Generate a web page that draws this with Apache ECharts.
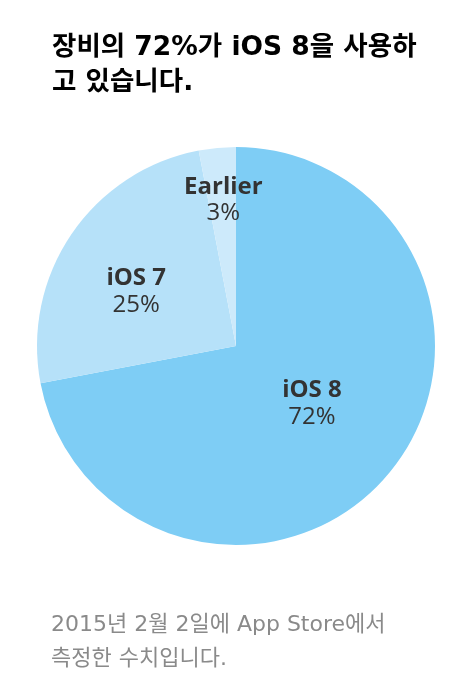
<!DOCTYPE html>
<html><head><meta charset="utf-8">
<script src="https://cdn.jsdelivr.net/npm/echarts@6/dist/echarts.min.js"></script>
<style>html,body{margin:0;padding:0;background:#fff}#c{width:472px;height:696px}</style>
</head><body><div id="c"></div>
<script>
const categories = ['iOS 8', 'iOS 7', 'Earlier'];
const values = [72, 25, 3];
const colors = ['#7ecdf5', '#b6e1f9', '#cdeafb'];
const labelOffsets = [[-3, -8], [-15, 3], [-3, -44]];
const titleText = '장비의 72%가 iOS 8을 사용하\n고 있습니다.';
const footerText = '2015년 2월 2일에 App Store에서\n측정한 수치입니다.';

const chart = echarts.init(document.getElementById('c'));
chart.setOption({
  animation: false,
  title: [
    { text: titleText, left: 47, top: 26,
      textStyle: { fontFamily: '"DejaVu Sans", "Noto Sans CJK KR"', fontWeight: 'bold', fontSize: 26.5, lineHeight: 35, color: '#000' } },
    { text: footerText, left: 46, top: 603,
      textStyle: { fontFamily: '"DejaVu Sans", "Noto Sans CJK KR"', fontWeight: 'normal', fontSize: 22, lineHeight: 34, color: '#8a8a8a' } }
  ],
  series: [{
    type: 'pie',
    center: [236, 346],
    radius: [0, 199],
    startAngle: 90,
    clockwise: true,
    silent: true,
    label: {
      position: 'inside',
      formatter: p => '{b|' + p.name + '}\n{p|' + p.value + '%}',
      rich: {
        b: { fontFamily: 'Open Sans', fontWeight: 'bold', fontSize: 24, lineHeight: 27, color: '#333' },
        p: { fontFamily: 'Open Sans', fontWeight: 'normal', fontSize: 24, lineHeight: 26, color: '#333' }
      }
    },
    labelLine: { show: false },
    data: categories.map((c, i) => ({
      name: c, value: values[i],
      itemStyle: { color: colors[i] },
      label: { offset: labelOffsets[i] }
    }))
  }]
});
</script></body></html>
